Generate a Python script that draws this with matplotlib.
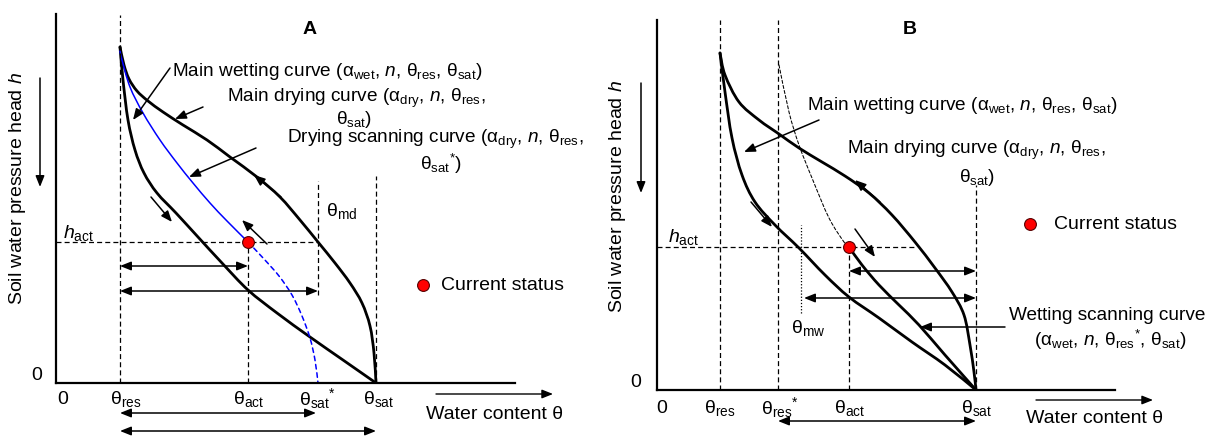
import matplotlib
matplotlib.use('Agg')
import matplotlib.pyplot as plt
from matplotlib.path import Path
from matplotlib.patches import PathPatch

plt.rcParams['font.family'] = ['Liberation Sans', 'DejaVu Sans']
plt.rcParams['mathtext.fontset'] = 'custom'
plt.rcParams['mathtext.rm'] = 'Liberation Sans'
plt.rcParams['mathtext.it'] = 'Liberation Sans:italic'
plt.rcParams['mathtext.bf'] = 'Liberation Sans:bold'

# ---------------- Panel A data (theta, h in diagram units) ----------------
A_theta_res, A_theta_act, A_theta_md, A_theta_satstar, A_theta_sat = 64, 192, 262, 262, 320
A_h_act = 141
A_wet_theta = [64, 67, 72, 79, 88, 101, 120, 142, 166, 192, 221, 254, 287, 320]
A_wet_h = [336, 303, 263, 233, 210, 190, 170, 146, 120, 93, 70, 46, 23, 0]
A_dry_theta = [64, 68, 73, 81, 92, 107, 127, 151, 174, 201, 224, 244, 262, 279, 294, 306, 314, 318, 320]
A_dry_h = [336, 318, 304, 292, 282, 271, 258, 243, 226, 206, 186, 163, 141, 120, 100, 80, 57, 30, 0]
A_scan_theta = [64, 66, 74, 87, 104, 121, 137, 154, 171, 192]
A_scan_h = [332, 323, 296, 270, 243, 220, 200, 180, 162, 141]
A_scanext_theta = [192, 208, 223, 236, 246, 254, 259, 262]
A_scanext_h = [141, 124, 107, 88, 67, 45, 23, 0]

# ---------------- Panel B data ----------------
B_theta_res, B_theta_resstar, B_theta_mw, B_theta_act, B_theta_sat = 63, 121, 144, 192, 319
B_h_act = 143
B_wet_theta = [63, 68, 75, 85, 98, 118, 142, 168, 192, 222, 255, 288, 319]
B_wet_h = [337, 298, 252, 215, 188, 165, 142, 115, 93, 72, 48, 25, 0]
B_dry_theta = [63, 68, 82, 102, 122, 142, 165, 188, 212, 235, 258, 278, 295, 307, 313, 317, 319]
B_dry_h = [337, 315, 288, 270, 256, 242, 228, 214, 197, 175, 148, 122, 98, 75, 45, 18, 0]
B_scan_theta = [192, 205, 222, 242, 262, 288, 319]
B_scan_h = [143, 125, 105, 85, 65, 35, 0]
B_thin_theta = [122, 132, 142, 155, 172, 187, 192]
B_thin_h = [325, 278, 245, 212, 172, 148, 143]

FS = 14
FS_CURVE = 13.7
K = 'black'

fig = plt.figure(figsize=(12.24, 4.36), dpi=100)
axA = fig.add_axes([56/1224, 53/436, 459/1224, 369/436])
axB = fig.add_axes([657/1224, 46/436, 458/1224, 370/436])
axA.set_xlim(0, 459); axA.set_ylim(0, 369)
axB.set_xlim(0, 458); axB.set_ylim(0, 370)
for ax in (axA, axB):
    for s in ('top', 'right'):
        ax.spines[s].set_visible(False)
    for s in ('left', 'bottom'):
        ax.spines[s].set_linewidth(1.6)
    ax.set_xticks([]); ax.set_yticks([])
    ax.patch.set_alpha(0)

DASH = (0, (4, 2.5))


def smooth(ax, xs, ys, **kw):
    """Draw a smooth curve through the given points (Catmull-Rom as Bezier path)."""
    pts = list(zip(xs, ys))
    verts = [pts[0]]
    codes = [Path.MOVETO]
    n = len(pts)
    for i in range(n - 1):
        p0 = pts[i - 1] if i > 0 else pts[i]
        p1 = pts[i]
        p2 = pts[i + 1]
        p3 = pts[i + 2] if i + 2 < n else pts[i + 1]
        c1 = (p1[0] + (p2[0] - p0[0]) / 6.0, p1[1] + (p2[1] - p0[1]) / 6.0)
        c2 = (p2[0] - (p3[0] - p1[0]) / 6.0, p2[1] - (p3[1] - p1[1]) / 6.0)
        verts += [c1, c2, p2]
        codes += [Path.CURVE4] * 3
    ax.add_patch(PathPatch(Path(verts, codes), fill=False, capstyle='round', **kw))


def arrow(ax, tail, tip, style='-|>', lw=1.1, ms=11):
    ax.annotate('', xy=tip, xytext=tail, annotation_clip=False,
                arrowprops=dict(arrowstyle=style + ',head_length=0.6,head_width=0.24',
                                color=K, lw=lw, mutation_scale=ms,
                                shrinkA=0, shrinkB=0))


def vdash(ax, x, y0, y1, ls=DASH, lw=0.9):
    ax.plot([x, x], [y0, y1], color=K, lw=lw, ls=ls, clip_on=False)


def txt(ax, x, y, s, **kw):
    kw.setdefault('fontsize', FS)
    kw.setdefault('ha', 'center')
    kw.setdefault('va', 'center')
    ax.text(x, y, s, clip_on=False, **kw)


def TH(sub):
    return r'$\mathrm{θ}_{\mathrm{%s}}$' % sub


def dot(ax, x, y, **kw):
    ax.plot([x], [y], 'o', ms=8.5, mfc='#ff0000', mec='#550000', mew=0.8,
            zorder=5, clip_on=False, **kw)


# ====================== Panel A ======================
ax = axA
vdash(ax, A_theta_res, 0, 368)
vdash(ax, A_theta_act, 0, A_h_act)
vdash(ax, A_theta_md, 88, 202)
vdash(ax, A_theta_sat, 0, 207)
ax.plot([0, A_theta_md], [A_h_act, A_h_act], color=K, lw=0.9, ls=DASH)

smooth(ax, A_wet_theta, A_wet_h, color=K, lw=2.0)
smooth(ax, A_dry_theta, A_dry_h, color=K, lw=2.0)
smooth(ax, A_scan_theta, A_scan_h, color='#0000ff', lw=1.1)
smooth(ax, A_scanext_theta, A_scanext_h, color='#0000ff', lw=1.1, linestyle=(0, (3, 2.5)))
dot(ax, A_theta_act, A_h_act)

arrow(ax, (A_theta_res, 117), (A_theta_act, 117), '<|-|>')
arrow(ax, (A_theta_res, 92), (A_theta_md, 92), '<|-|>')
arrow(ax, (A_theta_res, -30), (A_theta_satstar - 2, -30), '<|-|>')
arrow(ax, (A_theta_res, -48), (A_theta_sat, -48), '<|-|>')

arrow(ax, (114, 315), (77, 263))
arrow(ax, (147, 276), (119, 264))
arrow(ax, (200, 235), (133, 206))
arrow(ax, (225, 186), (198, 208))
arrow(ax, (95, 186), (116, 161))
arrow(ax, (211, 139), (186, 163))

txt(ax, 254, 353, 'A', fontweight='bold', fontsize=14)
txt(ax, 116, 311, r'Main wetting curve ($\mathrm{α}_{\mathrm{wet}}$, $\mathit{n}$, $\mathrm{θ}_{\mathrm{res}}$, $\mathrm{θ}_{\mathrm{sat}}$)', ha='left', fontsize=FS_CURVE)
txt(ax, 300, 285, r'Main drying curve ($\mathrm{α}_{\mathrm{dry}}$, $\mathit{n}$, $\mathrm{θ}_{\mathrm{res}}$,', fontsize=FS_CURVE)
txt(ax, 298, 264, r'$\mathrm{θ}_{\mathrm{sat}}$)', fontsize=FS_CURVE)
txt(ax, 379, 244, r'Drying scanning curve ($\mathrm{α}_{\mathrm{dry}}$, $\mathit{n}$, $\mathrm{θ}_{\mathrm{res}}$,', fontsize=FS_CURVE)
txt(ax, 385, 219, r'$\mathrm{θ}_{\mathrm{sat}}{}^{*}$)', fontsize=FS_CURVE)
dot(ax, 367, 98)
txt(ax, 385, 98, 'Current status', ha='left')
txt(ax, 286, 172, TH('md'))
txt(ax, 22, 150, r'$\mathit{h}_{\mathrm{act}}$')
txt(ax, -19, 8, '0')
txt(ax, 7, -16, '0')
txt(ax, 70, -16, TH('res'))
txt(ax, 193, -16, TH('act'))
txt(ax, 262, -16, r'$\mathrm{θ}_{\mathrm{sat}}{}^{*}$')
txt(ax, 323, -16, TH('sat'))
txt(ax, -38, 195, r'Soil water pressure head $\mathit{h}$', rotation=90)
arrow(ax, (-16, 305), (-16, 196), lw=1.1)
txt(ax, 439, -31, r'Water content θ')
arrow(ax, (380, -11), (497, -11), lw=1.0)

# ====================== Panel B ======================
ax = axB
vdash(ax, B_theta_res, 0, 370)
vdash(ax, B_theta_resstar, 0, 370)
vdash(ax, B_theta_act, 0, B_h_act)
vdash(ax, B_theta_sat, 0, 205)
vdash(ax, B_theta_mw, 77, 165, ls=(0, (1, 1.5)), lw=0.9)
ax.plot([0, 258], [B_h_act, B_h_act], color=K, lw=0.9, ls=DASH)

smooth(ax, B_wet_theta, B_wet_h, color=K, lw=2.0)
smooth(ax, B_dry_theta, B_dry_h, color=K, lw=2.0)
smooth(ax, B_scan_theta, B_scan_h, color=K, lw=2.0)
smooth(ax, B_thin_theta, B_thin_h, color=K, lw=0.75, linestyle=(0, (3, 2)))
dot(ax, B_theta_act, B_h_act)

arrow(ax, (B_theta_act, 119), (B_theta_sat, 119), '<|-|>')
arrow(ax, (B_theta_mw + 3, 92), (B_theta_sat, 92), '<|-|>')
arrow(ax, (B_theta_resstar, -31), (B_theta_sat, -31), '<|-|>')

arrow(ax, (162, 270), (87, 238))
arrow(ax, (223, 188), (198, 210))
arrow(ax, (94, 188), (115, 163))
arrow(ax, (198, 161), (218, 133))
arrow(ax, (348, 63), (263, 63))

txt(ax, 253, 360, 'B', fontweight='bold', fontsize=14)
txt(ax, 150, 285, r'Main wetting curve ($\mathrm{α}_{\mathrm{wet}}$, $\mathit{n}$, $\mathrm{θ}_{\mathrm{res}}$, $\mathrm{θ}_{\mathrm{sat}}$)', ha='left', fontsize=FS_CURVE)
txt(ax, 319, 240, r'Main drying curve ($\mathrm{α}_{\mathrm{dry}}$, $\mathit{n}$, $\mathrm{θ}_{\mathrm{res}}$,', fontsize=FS_CURVE)
txt(ax, 320, 212, r'$\mathrm{θ}_{\mathrm{sat}}$)', fontsize=FS_CURVE)
dot(ax, 373, 166)
txt(ax, 397, 166, 'Current status', ha='left')
txt(ax, 450, 74, 'Wetting scanning curve', fontsize=FS_CURVE)
txt(ax, 453, 50, r'($\mathrm{α}_{\mathrm{wet}}$, $\mathit{n}$, $\mathrm{θ}_{\mathrm{res}}{}^{*}$, $\mathrm{θ}_{\mathrm{sat}}$)', fontsize=FS_CURVE)
txt(ax, 151, 62, TH('mw'))
txt(ax, 26, 153, r'$\mathit{h}_{\mathrm{act}}$')
txt(ax, -21, 8, '0')
txt(ax, 5, -18, '0')
txt(ax, 63, -18, TH('res'))
txt(ax, 123, -18, r'$\mathrm{θ}_{\mathrm{res}}{}^{*}$')
txt(ax, 193, -18, TH('act'))
txt(ax, 320, -18, TH('sat'))
txt(ax, -39, 194, r'Soil water pressure head $\mathit{h}$', rotation=90)
arrow(ax, (-16, 307), (-16, 197), lw=1.1)
txt(ax, 438, -28, r'Water content θ')
arrow(ax, (379, -10), (496, -10), lw=1.0)

fig.savefig('out.png', dpi=100)
